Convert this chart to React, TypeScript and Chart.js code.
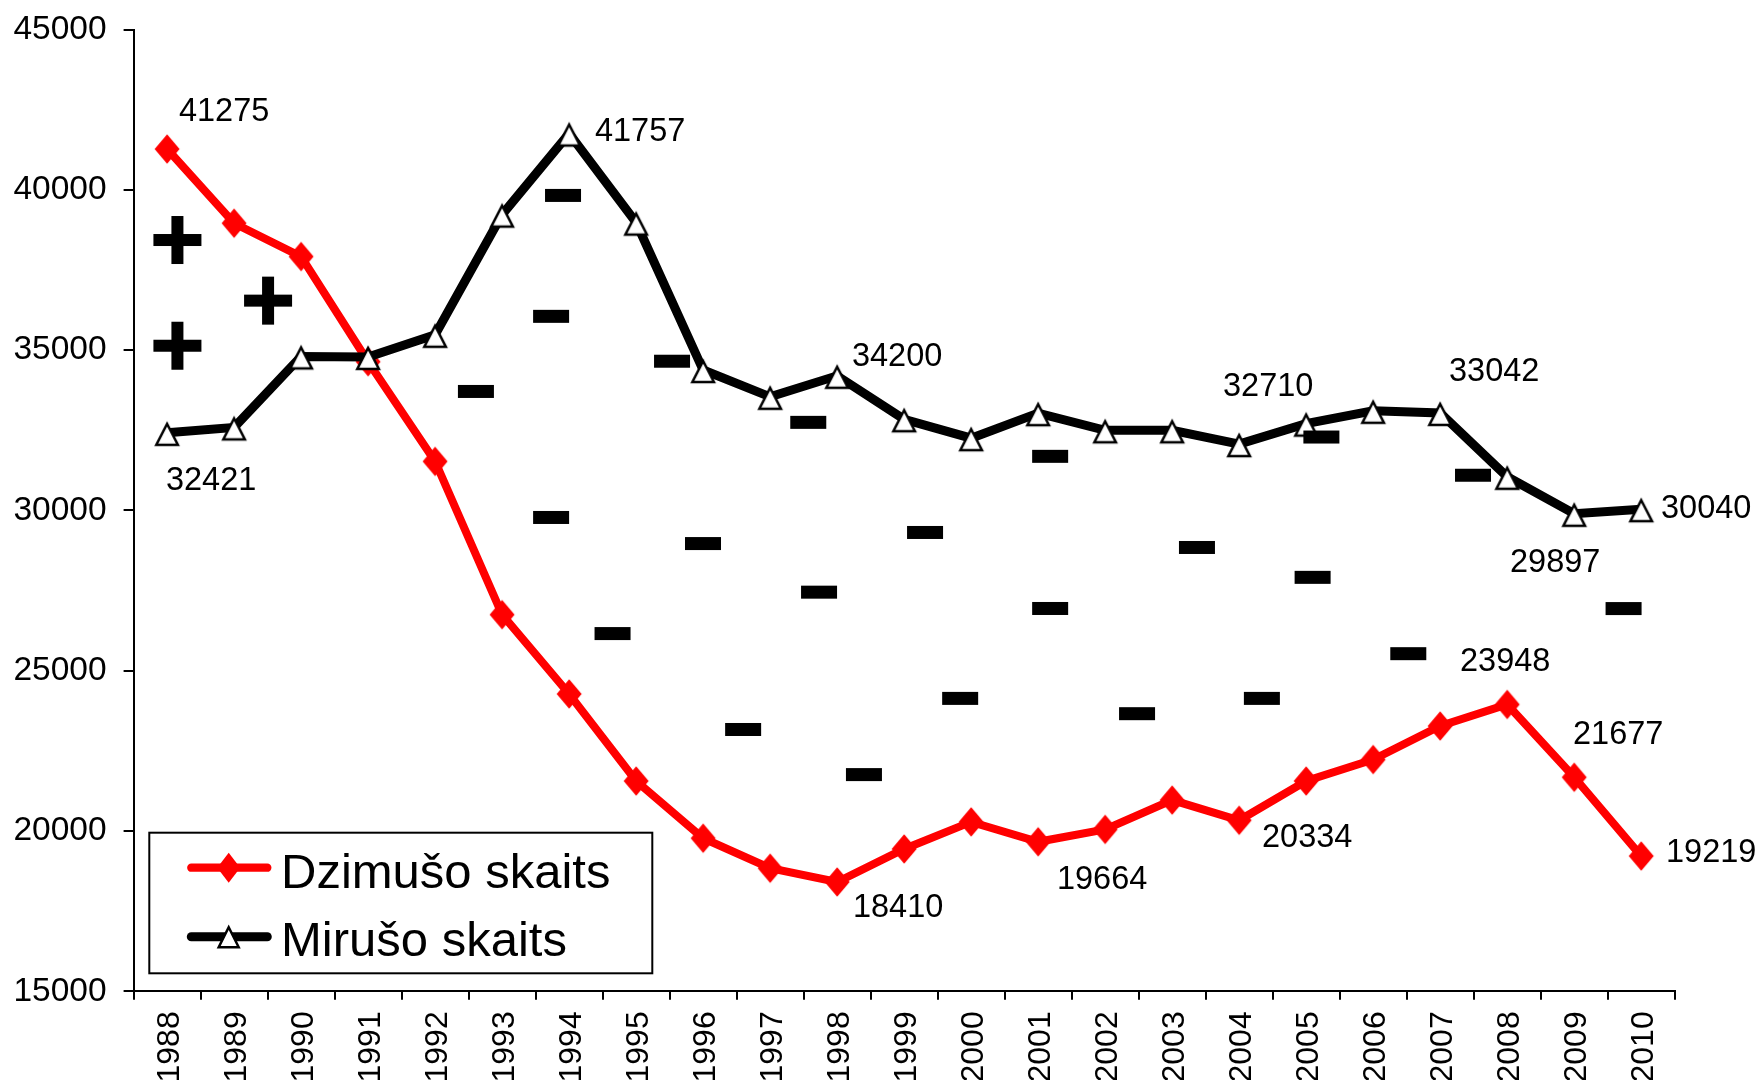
import React, { useEffect, useRef } from "react";
import { Chart, registerables } from "chart.js";

Chart.register(...registerables);

const FONT = '"Liberation Sans", Arial, sans-serif';

const years = ["1988", "1989", "1990", "1991", "1992", "1993", "1994", "1995", "1996", "1997", "1998", "1999", "2000", "2001", "2002", "2003", "2004", "2005", "2006", "2007", "2008", "2009", "2010"];

const births = [41275, 38960, 37920, 34640, 31530, 26750, 24275, 21560, 19775, 18840, 18410, 19440, 20285, 19664, 20050, 20965, 20334, 21560, 22230, 23275, 23948, 21677, 19219];

const deaths = [32421, 32590, 34805, 34790, 35480, 39230, 41757, 38980, 34380, 33545, 34200, 32845, 32255, 33035, 32500, 32500, 32070, 32710, 33110, 33042, 31050, 29897, 30040];

const seriesNames = ["Dzimušo skaits", "Mirušo skaits"];

const yMin = 15000;
const yMax = 45000;
const yStep = 5000;

// decorative "+" and "−" signs: [category index (decimal), value]
const plusMarks: [number, number][] = [
  [0.154, 38436],
  [0.154, 35138],
  [1.507, 36545],
];

const minusMarks: [number, number][] = [
  [4.609, 33712],
  [5.909, 39827],
  [5.731, 36055],
  [5.731, 29781],
  [6.648, 26159],
  [7.536, 34655],
  [7.998, 28967],
  [8.597, 23167],
  [9.569, 32748],
  [9.73, 27451],
  [10.4, 21760],
  [11.312, 29313],
  [11.836, 24137],
  [13.179, 31688],
  [13.179, 26942],
  [14.476, 23660],
  [15.37, 28845],
  [16.339, 24137],
  [17.227, 32290],
  [17.096, 27913],
  [18.524, 25532],
  [19.49, 31098],
  [21.737, 26939],
];

// which points carry a value label: [dataset index, point index, dx, dy]
const pointLabels: [number, number, number, number][] = [
  [0, 0, 57, -37],
  [1, 0, 44, 48],
  [1, 6, 71, -2],
  [1, 10, 60, -19],
  [1, 17, -38, -37],
  [1, 19, 54, -41],
  [1, 22, 65, 0],
  [1, 21, -19, 49],
  [0, 20, -2, -42],
  [0, 21, 44, -42],
  [0, 22, 70, -3],
  [0, 16, 68, 18],
  [0, 13, 64, 38],
  [0, 10, 61, 26],
];

function makeTriangle(): HTMLCanvasElement {
  const c = document.createElement("canvas");
  c.width = 30;
  c.height = 30;
  const g = c.getContext("2d")!;
  g.beginPath();
  g.moveTo(15, 6);
  g.lineTo(25.8, 27);
  g.lineTo(4.2, 27);
  g.closePath();
  g.fillStyle = "#fff";
  g.fill();
  g.lineWidth = 2.5;
  g.strokeStyle = "#000";
  g.lineJoin = "miter";
  g.stroke();
  return c;
}

function makeDiamond(): HTMLCanvasElement {
  const c = document.createElement("canvas");
  c.width = 28;
  c.height = 32;
  const g = c.getContext("2d")!;
  g.beginPath();
  g.moveTo(14, 1.2);
  g.lineTo(26.5, 16);
  g.lineTo(14, 30.8);
  g.lineTo(1.5, 16);
  g.closePath();
  g.fillStyle = "#ff0000";
  g.fill();
  return c;
}

const decorPlugin = {
  id: "decor",
  afterDatasetsDraw(chart: any) {
    const { ctx, scales, chartArea } = chart;
    const xs = scales.x;
    const ys = scales.y;
    ctx.save();
    ctx.fillStyle = "#000";
    for (const [i, v] of minusMarks) {
      const px = xs.getPixelForValue(i);
      const py = ys.getPixelForValue(v);
      ctx.fillRect(px - 18, py - 6.5, 36, 13);
    }
    for (const [i, v] of plusMarks) {
      const px = xs.getPixelForValue(i);
      const py = ys.getPixelForValue(v);
      ctx.fillRect(px - 24, py - 6, 48, 12);
      ctx.fillRect(px - 6, py - 24, 12, 48);
    }
    // value labels
    ctx.font = `32.5px ${FONT}`;
    ctx.textAlign = "center";
    ctx.textBaseline = "middle";
    for (const [ds, idx, dx, dy] of pointLabels) {
      const meta = chart.getDatasetMeta(ds);
      const pt = meta.data[idx];
      const val = chart.data.datasets[ds].data[idx];
      ctx.fillText(String(val), pt.x + dx, pt.y + dy);
    }
    // legend box
    const bx = chartArea.left + 15.7;
    const by = chartArea.bottom - 158.6;
    ctx.lineWidth = 2;
    ctx.strokeStyle = "#000";
    ctx.strokeRect(bx, by, 503, 140.6);
    const rows = [35, 104];
    const colors = ["#ff0000", "#000000"];
    const widths = [8.3, 9];
    rows.forEach((ry, k) => {
      const cy = by + ry;
      ctx.beginPath();
      ctx.moveTo(bx + 42, cy);
      ctx.lineTo(bx + 118, cy);
      ctx.lineCap = "round";
      ctx.lineWidth = widths[k];
      ctx.strokeStyle = colors[k];
      ctx.stroke();
      const mx = bx + 79.4;
      if (k === 0) {
        ctx.beginPath();
        ctx.moveTo(mx, cy - 15);
        ctx.lineTo(mx + 11.5, cy);
        ctx.lineTo(mx, cy + 15);
        ctx.lineTo(mx - 11.5, cy);
        ctx.closePath();
        ctx.fillStyle = "#ff0000";
        ctx.fill();
      } else {
        ctx.beginPath();
        ctx.moveTo(mx, cy - 9.5);
        ctx.lineTo(mx + 10, cy + 10.5);
        ctx.lineTo(mx - 10, cy + 10.5);
        ctx.closePath();
        ctx.fillStyle = "#fff";
        ctx.fill();
        ctx.lineWidth = 2.5;
        ctx.lineCap = "butt";
        ctx.lineJoin = "miter";
        ctx.strokeStyle = "#000";
        ctx.stroke();
      }
    });
    ctx.fillStyle = "#000";
    ctx.font = `49px ${FONT}`;
    ctx.textAlign = "left";
    ctx.textBaseline = "alphabetic";
    ctx.fillText(seriesNames[0], bx + 131.7, by + 55.6);
    ctx.fillText(seriesNames[1], bx + 131.7, by + 123.3);
    ctx.restore();
  },
};

export default function App() {
  const ref = useRef<HTMLCanvasElement | null>(null);

  useEffect(() => {
    if (!ref.current) return;
    const tri = makeTriangle();
    const dia = makeDiamond();
    const chart = new Chart(ref.current, {
      type: "line",
      data: {
        labels: years,
        datasets: [
          {
            label: seriesNames[0],
            data: births,
            borderColor: "#ff0000",
            backgroundColor: "#ff0000",
            borderWidth: 8,
            pointStyle: dia as any,
            pointRadius: 13,
            tension: 0,
            order: 2,
          },
          {
            label: seriesNames[1],
            data: deaths,
            borderColor: "#000000",
            backgroundColor: "#000000",
            borderWidth: 9,
            pointStyle: tri as any,
            pointRadius: 12,
            tension: 0,
            order: 1,
          },
        ],
      },
      options: {
        animation: false,
        responsive: false,
        maintainAspectRatio: false,
        devicePixelRatio: 1,
        layout: { autoPadding: false, padding: { top: 29.6, right: 87.3, left: 0, bottom: 0 } },
        plugins: {
          legend: { display: false },
          tooltip: { enabled: false },
        },
        scales: {
          x: {
            type: "category",
            offset: true,
            grid: {
              offset: true,
              drawOnChartArea: false,
              drawTicks: true,
              tickLength: 8.5,
              color: "#000",
              lineWidth: 2,
            },
            border: { color: "#000", width: 2 },
            ticks: {
              minRotation: 90,
              maxRotation: 90,
              autoSkip: false,
              color: "#000",
              font: { size: 32, family: FONT },
              padding: 11.5,
              labelOffset: 3,
            },
            afterFit: (s: any) => {
              s.height = 88.7;
              s.paddingLeft = 0;
              s.paddingRight = 0;
            },
          },
          y: {
            min: yMin,
            max: yMax,
            ticks: {
              stepSize: yStep,
              color: "#000",
              font: { size: 33.5, family: FONT },
              padding: 17,
              callback: (v: any) => String(v),
            },
            grid: {
              drawOnChartArea: false,
              drawTicks: true,
              tickLength: 10,
              color: "#000",
              lineWidth: 2,
            },
            border: { color: "#000", width: 2 },
            afterFit: (s: any) => {
              s.width = 133.6;
              s.paddingTop = 0;
              s.paddingBottom = 0;
            },
          },
        },
      },
      plugins: [decorPlugin],
    });
    return () => chart.destroy();
  }, []);

  return (
    <div style={{ position: "absolute", left: 0, top: 0, width: 1762, height: 1080, background: "#fff", overflow: "hidden" }}>
      <canvas ref={ref} width={1762} height={1080} style={{ display: "block", width: 1762, height: 1080 }} />
    </div>
  );
}
